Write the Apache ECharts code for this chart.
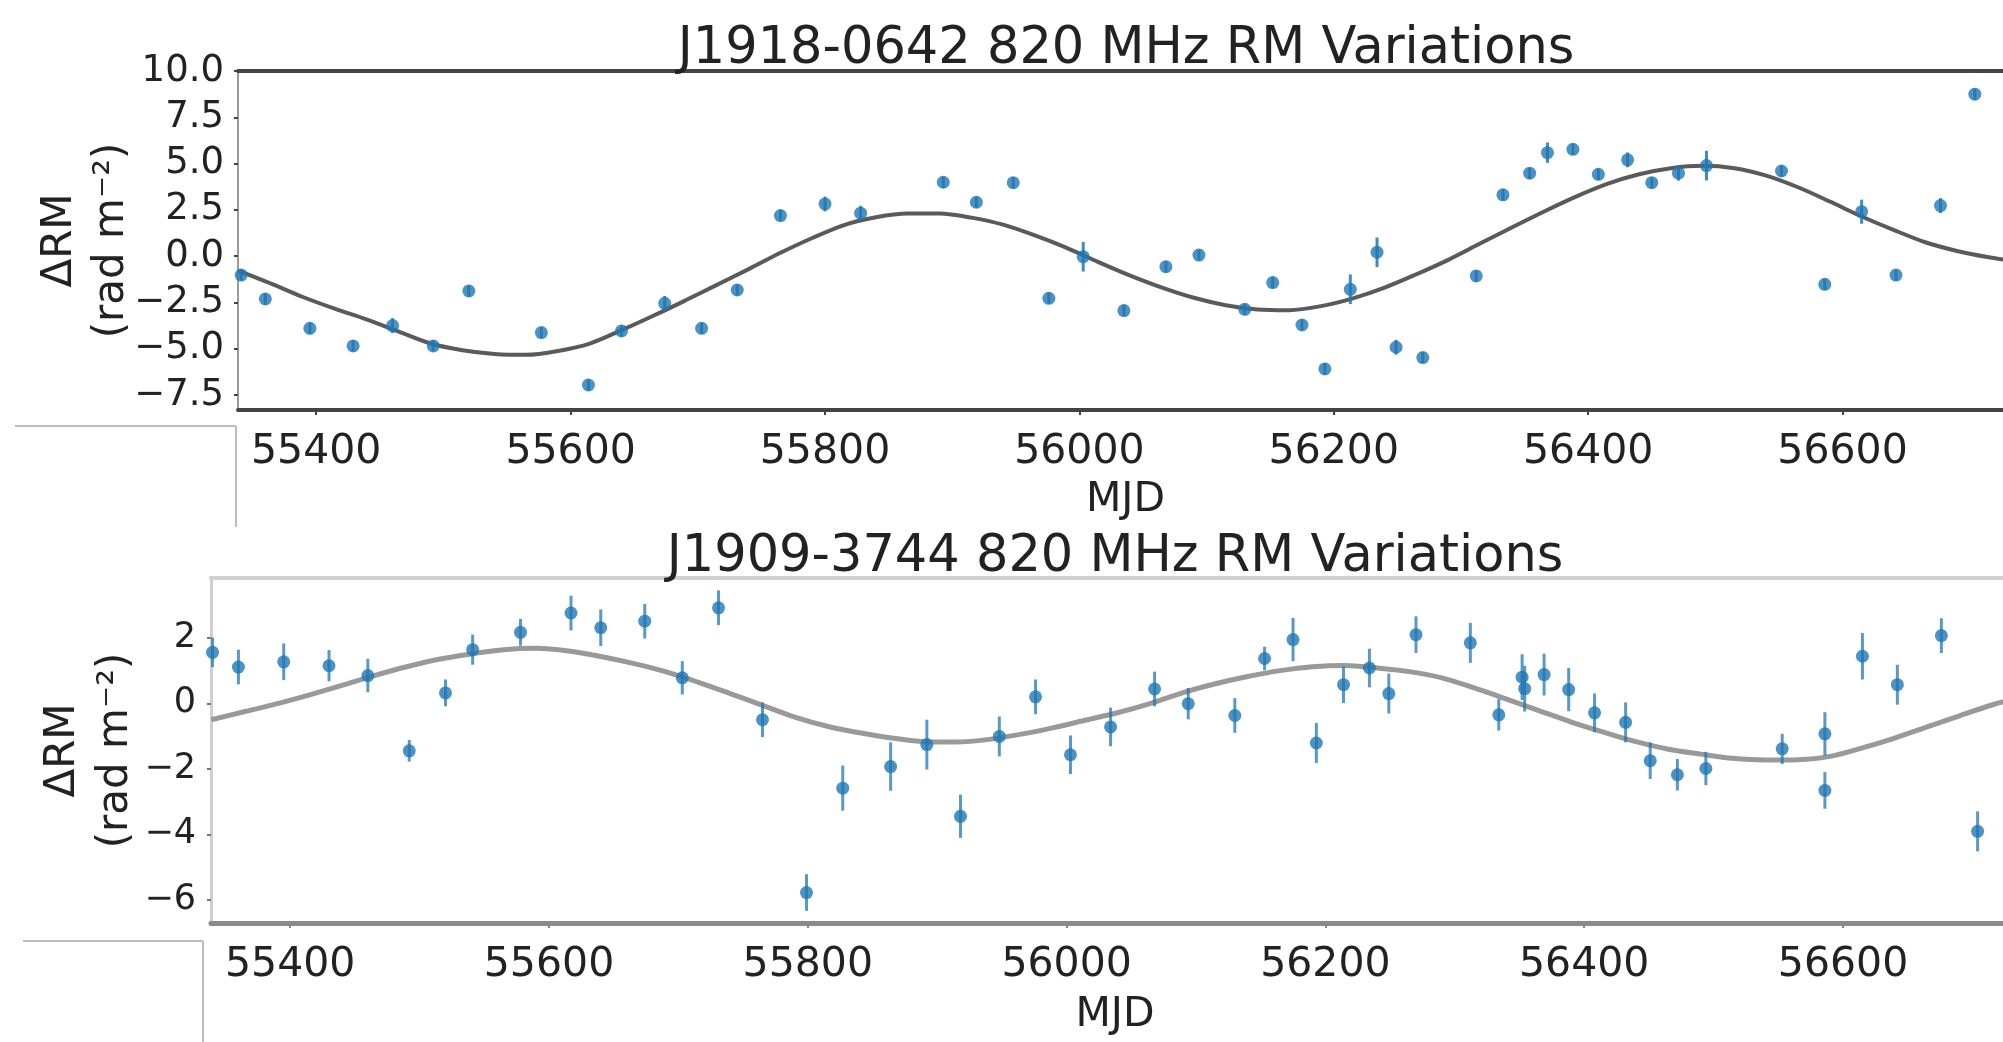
<!DOCTYPE html>
<html>
<head>
<meta charset="utf-8">
<script src="https://cdn.jsdelivr.net/npm/echarts@6/dist/echarts.min.js"></script>
<style>
  html, body { margin: 0; padding: 0; background: #fff; overflow: hidden; }
  #chart { width: 2040px; height: 1042px; }
</style>
</head>
<body>
<div id="chart"></div>
<script>
// ---------- data ----------
const X_TICKS = [55400, 55600, 55800, 56000, 56200, 56400, 56600];
const Y_TICKS_TOP = [-7.5, -5, -2.5, 0, 2.5, 5, 7.5, 10];
const Y_TICKS_BOTTOM = [-6, -4, -2, 0, 2];

const TITLE_TOP = 'J1918-0642 820 MHz RM Variations';
const TITLE_BOTTOM = 'J1909-3744 820 MHz RM Variations';
const X_NAME = 'MJD';
const Y_NAME = 'ΔRM\n(rad m⁻²)';

// J1918-0642
const mjdTop = [55341, 55360, 55395, 55429, 55460, 55492, 55520, 55577, 55614, 55640,
  55674, 55703, 55731, 55765, 55800, 55828, 55893, 55919, 55948, 55976,
  56003, 56035, 56068, 56094, 56130, 56152, 56175, 56193, 56213, 56234,
  56249, 56270, 56312, 56333, 56354, 56368, 56388, 56408, 56431, 56450,
  56471, 56493, 56552, 56586, 56615, 56642, 56677, 56704];
const rmTop = [-1.02, -2.31, -3.90, -4.85, -3.75, -4.85, -1.88, -4.13, -6.96, -4.04,
  -2.55, -3.90, -1.83, 2.19, 2.82, 2.32, 3.99, 2.91, 3.97, -2.28,
  -0.03, -2.94, -0.57, 0.06, -2.87, -1.43, -3.72, -6.09, -1.79, 0.21,
  -4.92, -5.48, -1.07, 3.31, 4.48, 5.59, 5.77, 4.42, 5.20, 3.97,
  4.48, 4.89, 4.60, -1.52, 2.40, -1.02, 2.73, 8.75];
const errTop = [0.3, 0.3, 0.3, 0.3, 0.4, 0.3, 0.3, 0.3, 0.3, 0.3,
  0.4, 0.3, 0.3, 0.3, 0.4, 0.4, 0.3, 0.3, 0.3, 0.3,
  0.8, 0.3, 0.3, 0.3, 0.3, 0.3, 0.3, 0.3, 0.8, 0.8,
  0.4, 0.3, 0.3, 0.3, 0.3, 0.55, 0.3, 0.3, 0.4, 0.3,
  0.4, 0.8, 0.3, 0.3, 0.65, 0.3, 0.4, 0.3];
const fitMjdTop = [55339, 55365, 55390, 55415, 55440, 55465, 55490, 55515, 55540, 55565,
  55590, 55615, 55640, 55665, 55690, 55715, 55740, 55765, 55790, 55815,
  55840, 55865, 55890, 55915, 55940, 55965, 55990, 56015, 56040, 56065,
  56090, 56115, 56140, 56165, 56190, 56215, 56240, 56265, 56290, 56315,
  56340, 56365, 56390, 56415, 56440, 56465, 56490, 56515, 56540, 56565,
  56590, 56615, 56640, 56665, 56690, 56715, 56740];
const fitRmTop = [-0.80, -1.50, -2.22, -2.85, -3.43, -4.08, -4.72, -5.08, -5.28, -5.33,
  -5.12, -4.72, -4.00, -3.22, -2.40, -1.55, -0.70, 0.18, 0.98, 1.68,
  2.10, 2.30, 2.30, 2.08, 1.70, 1.12, 0.45, -0.32, -1.05, -1.70,
  -2.25, -2.65, -2.88, -2.92, -2.70, -2.28, -1.70, -0.98, -0.20, 0.68,
  1.55, 2.40, 3.20, 3.90, 4.42, 4.75, 4.88, 4.75, 4.35, 3.72,
  2.95, 2.14, 1.42, 0.75, 0.28, -0.06, -0.32];

// J1909-3744
const mjdBottom = [55340, 55360, 55395, 55430, 55460, 55492, 55520, 55541, 55578, 55617,
  55640, 55674, 55703, 55731, 55765, 55799, 55827, 55864, 55892, 55918,
  55948, 55976, 56003, 56034, 56068, 56094, 56130, 56153, 56175, 56193,
  56214, 56234, 56249, 56270, 56312, 56334, 56352, 56354, 56369, 56388,
  56408, 56432, 56451, 56472, 56494, 56553, 56586, 56586, 56615, 56642,
  56676, 56704];
const rmBottom = [1.56, 1.11, 1.27, 1.15, 0.85, -1.45, 0.32, 1.64, 2.17, 2.76,
  2.31, 2.51, 0.78, 2.92, -0.50, -5.78, -2.59, -1.93, -1.26, -3.45,
  -1.01, 0.20, -1.57, -0.72, 0.44, -0.01, -0.37, 1.37, 1.95, -1.21,
  0.57, 1.08, 0.30, 2.10, 1.85, -0.35, 0.80, 0.45, 0.88, 0.42,
  -0.29, -0.58, -1.75, -2.18, -1.99, -1.39, -0.93, -2.66, 1.44, 0.57,
  2.07, -3.91];
const errBottom = [0.45, 0.53, 0.56, 0.48, 0.51, 0.33, 0.41, 0.46, 0.41, 0.53,
  0.56, 0.53, 0.51, 0.53, 0.53, 0.56, 0.69, 0.74, 0.76, 0.66,
  0.61, 0.53, 0.59, 0.59, 0.53, 0.48, 0.53, 0.36, 0.66, 0.61,
  0.56, 0.59, 0.61, 0.56, 0.61, 0.48, 0.70, 0.70, 0.64, 0.66,
  0.59, 0.61, 0.56, 0.48, 0.51, 0.46, 0.66, 0.56, 0.71, 0.61,
  0.53, 0.61];
const fitMjdBottom = [55339, 55365, 55390, 55415, 55440, 55465, 55490, 55515, 55540, 55565,
  55590, 55615, 55640, 55665, 55690, 55715, 55740, 55765, 55790, 55815,
  55840, 55865, 55890, 55915, 55940, 55965, 55990, 56015, 56040, 56065,
  56090, 56115, 56140, 56165, 56190, 56215, 56240, 56265, 56290, 56315,
  56340, 56365, 56390, 56415, 56440, 56465, 56490, 56515, 56540, 56565,
  56590, 56615, 56640, 56665, 56690, 56715, 56740];
const fitRmBottom = [-0.50, -0.25, -0.01, 0.26, 0.55, 0.85, 1.12, 1.35, 1.51, 1.64,
  1.68, 1.60, 1.43, 1.22, 0.97, 0.65, 0.30, -0.06, -0.42, -0.70,
  -0.90, -1.06, -1.17, -1.18, -1.10, -0.94, -0.74, -0.51, -0.28, 0.00,
  0.33, 0.60, 0.82, 1.00, 1.12, 1.16, 1.08, 0.97, 0.78, 0.47,
  0.13, -0.22, -0.57, -0.88, -1.17, -1.40, -1.55, -1.68, -1.73, -1.72,
  -1.62, -1.36, -1.06, -0.72, -0.38, -0.05, 0.22];

// ---------- chart ----------
const FONT = '"DejaVu Sans", "Liberation Sans", sans-serif';
const TXT = '#222';
const BLUE = '#1f77b4';
const zip = (a, b) => a.map((v, i) => [v, b[i]]);
const zip3 = (a, b, c) => a.map((v, i) => [v, b[i], c[i]]);
const minusFmt1 = v => (v < 0 ? '\u2212' : '') + Math.abs(v).toFixed(1);
const minusFmt0 = v => (v < 0 ? '\u2212' : '') + Math.abs(v);

function errRender(color, width, opacity) {
  return function (params, api) {
    const x = api.value(0), y = api.value(1), e = api.value(2);
    const p1 = api.coord([x, y - e]);
    const p2 = api.coord([x, y + e]);
    return {
      type: 'line',
      shape: { x1: p1[0], y1: p1[1], x2: p2[0], y2: p2[1] },
      style: { stroke: color, lineWidth: width, opacity: opacity }
    };
  };
}

function xAxisPair(grid, min, max, c) {
  return [
    {
      gridIndex: grid, type: 'value', position: 'bottom', min: min, max: max,
      axisLine: { onZero: false, lineStyle: { color: c.bottom, width: c.bottomW } },
      axisTick: { customValues: X_TICKS, length: 5, lineStyle: { color: c.tick, width: 2 } },
      axisLabel: { customValues: X_TICKS, formatter: v => String(v), fontSize: 41, margin: 22, color: TXT, fontFamily: FONT },
      splitLine: { show: false },
      name: X_NAME, nameLocation: 'middle', nameGap: c.nameGap, nameMoveOverlap: false,
      nameTextStyle: { fontSize: 41, color: TXT, fontFamily: FONT }
    },
    {
      gridIndex: grid, type: 'value', position: 'top', min: min, max: max,
      axisLine: { show: true, onZero: false, lineStyle: { color: c.top, width: c.topW } },
      axisTick: { show: false }, axisLabel: { show: false }, splitLine: { show: false }
    }
  ];
}

const option = {
  backgroundColor: '#fff',
  animation: false,
  grid: [
    { left: 238, top: 71, width: 1775, height: 339 },
    { left: 211, top: 578, width: 1808, height: 345 }
  ],
  xAxis: [
    ...xAxisPair(0, 55338.5, 56734, { bottom: '#444', bottomW: 4, top: '#444', topW: 4, tick: '#444', nameGap: 70 }),
    ...xAxisPair(1, 55338.8, 56736, { bottom: '#8a8a8a', bottomW: 5, top: '#d0d0d0', topW: 4, tick: '#888', nameGap: 72 })
  ],
  yAxis: [
    {
      gridIndex: 0, type: 'value', min: -8.31, max: 10.0,
      axisLine: { show: true, onZero: false, lineStyle: { color: '#9a9a9a', width: 2 } },
      axisTick: { show: true, customValues: Y_TICKS_TOP, length: 4, lineStyle: { color: '#444', width: 2 } },
      axisLabel: { customValues: Y_TICKS_TOP, formatter: minusFmt1, fontSize: 37, margin: 14, color: TXT, fontFamily: FONT },
      splitLine: { show: false },
      name: Y_NAME, nameLocation: 'middle', nameRotate: 90, nameGap: 100, nameMoveOverlap: false,
      nameTextStyle: { fontSize: 42, lineHeight: 52, color: TXT, fontFamily: FONT }
    },
    {
      gridIndex: 1, type: 'value', min: -6.71, max: 3.83,
      axisLine: { show: true, onZero: false, lineStyle: { color: '#cfcfcf', width: 3 } },
      axisTick: { show: true, customValues: Y_TICKS_BOTTOM, length: 4, lineStyle: { color: '#777', width: 2 } },
      axisLabel: { customValues: Y_TICKS_BOTTOM, formatter: minusFmt0, fontSize: 35, margin: 15, color: TXT, fontFamily: FONT },
      splitLine: { show: false },
      name: Y_NAME, nameLocation: 'middle', nameRotate: 90, nameGap: 68, nameMoveOverlap: false,
      nameTextStyle: { fontSize: 42, lineHeight: 53, color: TXT, fontFamily: FONT }
    }
  ],
  series: [
    {
      type: 'line', xAxisIndex: 0, yAxisIndex: 0, data: zip(fitMjdTop, fitRmTop),
      smooth: 0.3, showSymbol: false, clip: true, z: 2,
      lineStyle: { color: '#5a5a5a', width: 4 }
    },
    {
      type: 'custom', xAxisIndex: 0, yAxisIndex: 0, data: zip3(mjdTop, rmTop, errTop),
      encode: { x: 0, y: 1 }, renderItem: errRender(BLUE, 3, 0.85), z: 3, clip: true
    },
    {
      type: 'scatter', xAxisIndex: 0, yAxisIndex: 0, data: zip(mjdTop, rmTop),
      symbolSize: 13, itemStyle: { color: BLUE }, z: 4
    },
    {
      type: 'line', xAxisIndex: 2, yAxisIndex: 1, data: zip(fitMjdBottom, fitRmBottom),
      smooth: 0.3, showSymbol: false, clip: true, z: 2,
      lineStyle: { color: '#999', width: 5 }
    },
    {
      type: 'custom', xAxisIndex: 2, yAxisIndex: 1, data: zip3(mjdBottom, rmBottom, errBottom),
      encode: { x: 0, y: 1 }, renderItem: errRender(BLUE, 3, 0.75), z: 3, clip: true
    },
    {
      type: 'scatter', xAxisIndex: 2, yAxisIndex: 1, data: zip(mjdBottom, rmBottom),
      symbolSize: 13, itemStyle: { color: BLUE }, z: 4
    }
  ],
  graphic: [
    {
      type: 'text', x: 1126, y: 50, z: 10,
      style: { text: TITLE_TOP, font: '51px ' + FONT, fill: TXT,
        align: 'center', verticalAlign: 'middle', textAlign: 'center', textVerticalAlign: 'middle' }
    },
    {
      type: 'text', x: 1115, y: 558, z: 10,
      style: { text: TITLE_BOTTOM, font: '51px ' + FONT, fill: TXT,
        align: 'center', verticalAlign: 'middle', textAlign: 'center', textVerticalAlign: 'middle' }
    },
    { type: 'line', shape: { x1: 15, y1: 426, x2: 236, y2: 426 }, style: { stroke: '#bdbdbd', lineWidth: 2 } },
    { type: 'line', shape: { x1: 236, y1: 426, x2: 236, y2: 527 }, style: { stroke: '#bdbdbd', lineWidth: 2 } },
    { type: 'line', shape: { x1: 23, y1: 941, x2: 203, y2: 941 }, style: { stroke: '#bdbdbd', lineWidth: 2 } },
    { type: 'line', shape: { x1: 203, y1: 941, x2: 203, y2: 1042 }, style: { stroke: '#bdbdbd', lineWidth: 2 } }
  ]
};

const chart = echarts.init(document.getElementById('chart'), null, { renderer: 'canvas' });
chart.setOption(option);
</script>
</body>
</html>
